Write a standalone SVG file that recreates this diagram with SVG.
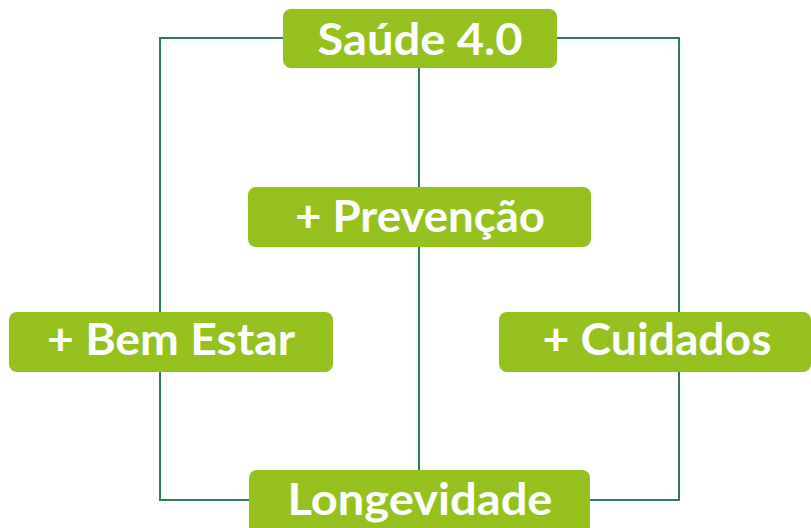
<svg xmlns="http://www.w3.org/2000/svg" width="811" height="528" viewBox="0 0 811 528">
<style>
.box{fill:#95c11f}
.lbl{font-family:Lato,"Open Sans",sans-serif;font-weight:bold;font-size:43px;fill:#ffffff;text-anchor:middle}
.ln{fill:none;stroke:#2e7d4f;stroke-width:2}
</style>
<rect width="811" height="528" fill="#ffffff"/>
<g id="connectors">
<path class="ln" d="M283,38 H160 V500 H249"/>
<path class="ln" d="M557,38 H679 V500 H590"/>
<path class="ln" d="M419,68 V187"/>
<path class="ln" d="M419,247 V470"/>
</g>
<g id="saude">
<rect class="box" x="283" y="9" width="274" height="59" rx="8"/>
<text class="lbl" x="420" y="55" textLength="205" lengthAdjust="spacingAndGlyphs">Saúde 4.0</text>
</g>
<g id="prevencao">
<rect class="box" x="248" y="187" width="343" height="60" rx="8"/>
<text class="lbl" x="420" y="232" textLength="250" lengthAdjust="spacingAndGlyphs">+ Prevenção</text>
</g>
<g id="bemestar">
<rect class="box" x="9" y="312" width="324" height="60" rx="8"/>
<text class="lbl" x="171" y="355" textLength="248" lengthAdjust="spacingAndGlyphs">+ Bem Estar</text>
</g>
<g id="cuidados">
<rect class="box" x="499" y="312" width="312" height="60" rx="8"/>
<text class="lbl" x="657" y="355" textLength="229" lengthAdjust="spacingAndGlyphs">+ Cuidados</text>
</g>
<g id="longevidade">
<rect class="box" x="249" y="470" width="341" height="70" rx="8"/>
<text class="lbl" x="420" y="515" textLength="265" lengthAdjust="spacingAndGlyphs">Longevidade</text>
</g>
</svg>
